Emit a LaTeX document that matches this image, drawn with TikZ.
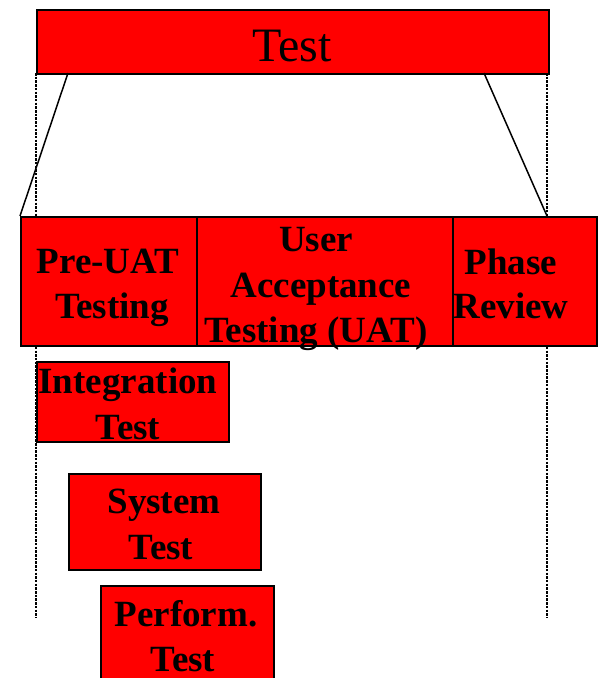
\documentclass[tikz,border=0pt]{standalone}
\usepackage{fontspec}
\setmainfont{Liberation Serif}
\begin{document}
\begin{tikzpicture}[x=1pt,y=-1pt,
  box/.style={draw=black, line width=1.5pt, fill=red, inner sep=0pt, anchor=north west},
  lbl/.style={font=\fontsize{37}{45}\selectfont\bfseries, inner sep=0pt, anchor=base},
  title/.style={font=\fontsize{48}{56}\selectfont, inner sep=0pt, anchor=base},
  guide/.style={line width=2.5pt, dash pattern=on 2.5pt off 1.2pt},
  link/.style={line width=1.5pt}]
\useasboundingbox (0,0) rectangle (598,678);

% dotted guides behind everything
\coordinate (gl-top) at (36,73);
\coordinate (gl-bot) at (36,617);
\coordinate (gr-top) at (547,73);
\coordinate (gr-bot) at (547,617);
\draw[guide] (gl-top) -- (gl-bot);
\draw[guide] (gr-top) -- (gr-bot);

% boxes
\node[box, minimum width=512pt, minimum height=64pt] (test) at (36,9) {};
\node[box, minimum width=256pt, minimum height=129pt] (uat) at (196,216) {};
\node[box, minimum width=144pt, minimum height=129pt] (phase) at (452,216) {};
\node[box, minimum width=176pt, minimum height=129pt] (pre) at (20,216) {};
\node[box, minimum width=192pt, minimum height=80pt] (integ) at (36,361) {};
\node[box, minimum width=192pt, minimum height=96pt] (system) at (68,473) {};
\node[box, minimum width=173pt, minimum height=120pt] (perf) at (100,585) {};

% zoom lines from the top box
\coordinate (zl-top) at (68,73);
\coordinate (zr-top) at (484,73);
\coordinate (zr-bot) at (547,216);
\draw[link] (zl-top) -- (pre.north west);
\draw[link] (zr-top) -- (zr-bot);

% labels
\node[title] (test-t) at (292,61) {Test};
\node[lbl] (pre-1) at (108,273) {Pre-UAT};
\node[lbl] (pre-2) at (112,318) {Testing};
\node[lbl] (uat-1) at (316,251) {User};
\node[lbl] (uat-2) at (321,297) {Acceptance};
\node[lbl] (uat-3) at (316,342) {Testing (UAT)};
\node[lbl] (phase-1) at (511,274) {Phase};
\node[lbl] (phase-2) at (511,318) {Review};
\node[lbl] (integ-1) at (128,393) {Integration};
\node[lbl] (integ-2) at (128,439) {Test};
\node[lbl] (system-1) at (164,513) {System};
\node[lbl] (system-2) at (161,559) {Test};
\node[lbl] (perf-1) at (186,626) {Perform.};
\node[lbl] (perf-2) at (183,671) {Test};
\end{tikzpicture}
\end{document}
